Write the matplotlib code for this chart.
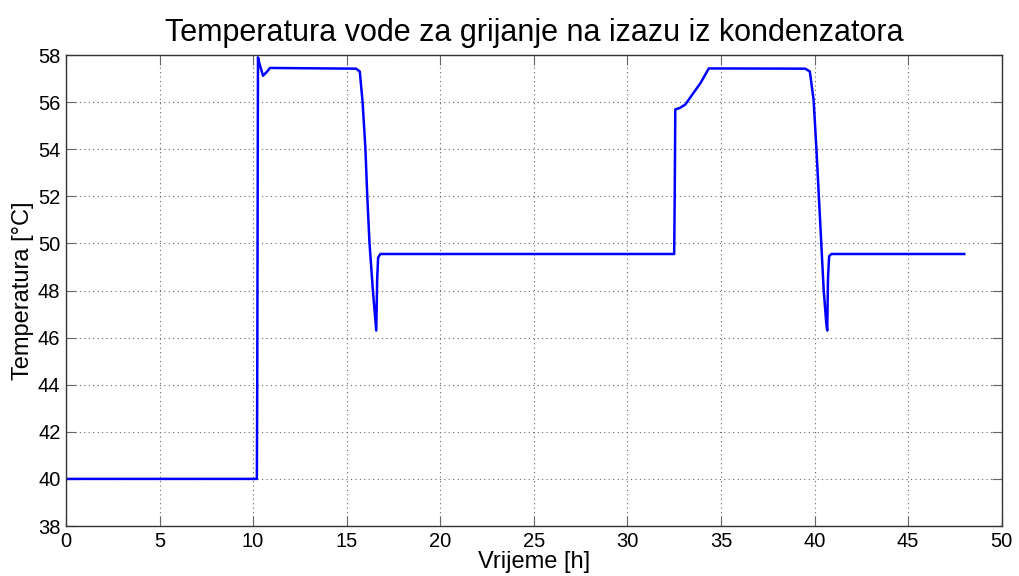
import matplotlib
matplotlib.use("Agg")
import matplotlib.pyplot as plt

# Temperatura vode na izlazu iz kondenzatora (procitano s grafa)
t_h = [0.0, 10.2, 10.22, 10.26, 10.35, 10.53, 10.75, 10.9, 15.5, 15.7, 15.85,
       16.0, 16.1, 16.22, 16.4, 16.58, 16.63, 16.68, 16.8, 24.0,
       32.5, 32.53, 32.56, 32.8, 33.1, 33.45, 33.9, 34.35, 39.5, 39.75,
       39.95, 40.1, 40.23, 40.36, 40.49, 40.63, 40.68, 40.72, 40.78, 40.9, 48.0]
temp_c = [40.0, 40.0, 44.0, 57.9, 57.6, 57.12, 57.3, 57.45, 57.42, 57.3, 56.0,
          54.04, 52.0, 50.0, 48.0, 46.3, 48.5, 49.4, 49.55, 49.55,
          49.55, 52.0, 55.69, 55.75, 55.9, 56.3, 56.8, 57.43, 57.42, 57.3,
          56.1, 54.04, 52.03, 50.03, 48.02, 46.6, 46.3, 48.5, 49.45, 49.55, 49.55]

x_ticks = list(range(0, 51, 5))
y_ticks = list(range(38, 59, 2))

plt.rcParams['font.family'] = ['Liberation Sans', 'DejaVu Sans']

fig = plt.figure(figsize=(10.2, 5.76), dpi=100)
ax = fig.add_axes([0.0647, 0.0868, 0.9173, 0.8177])

ax.plot(t_h, temp_c, color='#0000ff', linewidth=1.8)

ax.set_xlim(0, 50)
ax.set_ylim(38, 58)
ax.set_xticks(x_ticks)
ax.set_yticks(y_ticks)
ax.tick_params(direction='in', length=7, labelsize=14.5, color='#666666', pad=4,
               top=True, right=True)
ax.grid(True, linestyle=(0, (1, 3)), color='#666666', linewidth=0.8)
for s in ax.spines.values():
    s.set_color('#333333')
    s.set_linewidth(1.0)

ax.set_title("Temperatura vode za grijanje na izazu iz kondenzatora", fontsize=22, pad=10)
ax.set_xlabel("Vrijeme [h]", fontsize=17, labelpad=0)
ax.set_ylabel("Temperatura [°C]", fontsize=17, labelpad=3)

fig.savefig("out.png", dpi=100)
